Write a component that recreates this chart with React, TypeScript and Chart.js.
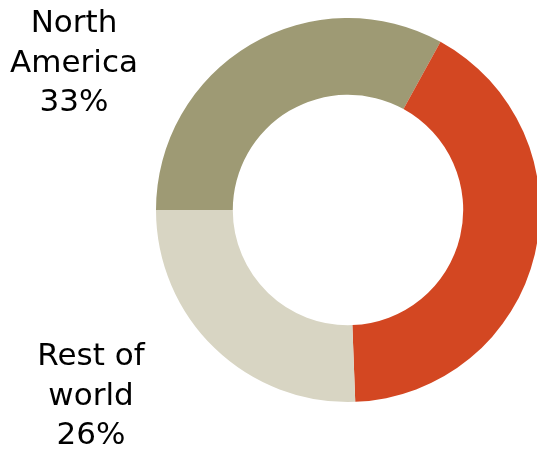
import React, { useEffect, useRef } from "react";
import { Chart, registerables } from "chart.js";

Chart.register(...registerables);

const categories = ["North America", "Europe", "Rest of world"];
const shares = [33, 41.4, 25.6];
const colors = ["#9E9A74", "#D34722", "#D8D5C3"];
// label lines shown beside the ring (the middle one falls outside the picture)
const labelLines: (string[] | null)[] = [
  ["North", "America", "33%"],
  null,
  ["Rest of", "world", "26%"],
];
const labelAnchors: ([number, number] | null)[] = [
  [74, 32],
  null,
  [91, 365],
];

const labelPlugin = {
  id: "sideLabels",
  afterDraw(chart: any) {
    const ctx = chart.ctx;
    ctx.save();
    ctx.fillStyle = "#000000";
    ctx.font = "31px 'DejaVu Sans'";
    ctx.textAlign = "center";
    ctx.textBaseline = "alphabetic";
    labelLines.forEach((lines, i) => {
      const a = labelAnchors[i];
      if (!lines || !a) return;
      lines.forEach((t, j) => ctx.fillText(t, a[0], a[1] + j * 39.5));
    });
    ctx.restore();
  },
};

export default function App() {
  const ref = useRef<HTMLCanvasElement>(null);
  useEffect(() => {
    document.body.style.margin = "0";
    const chart = new Chart(ref.current!, {
      type: "doughnut",
      data: {
        labels: categories,
        datasets: [
          {
            data: shares,
            backgroundColor: colors,
            borderWidth: 0,
          },
        ],
      },
      options: {
        responsive: false,
        animation: false,
        rotation: -90,
        cutout: "60%",
        layout: { padding: { left: 156, right: 20, top: 18, bottom: 50 } },
        plugins: {
          legend: { display: false },
          tooltip: { enabled: false },
        },
      },
      plugins: [labelPlugin],
    });
    return () => chart.destroy();
  }, []);
  return (
    <div
      style={{
        position: "absolute",
        left: 0,
        top: 0,
        width: 537,
        height: 452,
        overflow: "hidden",
        background: "#ffffff",
      }}
    >
      <canvas ref={ref} width={560} height={452} style={{ display: "block" }} />
    </div>
  );
}
